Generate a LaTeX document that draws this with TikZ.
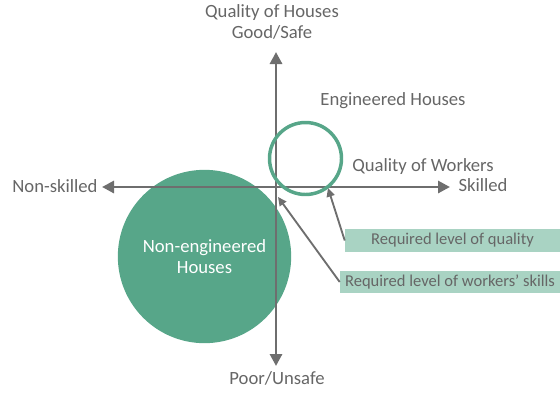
\documentclass[tikz,border=0pt]{standalone}
\usepackage{fontspec}
\setmainfont{Carlito}
\usetikzlibrary{positioning}
\usetikzlibrary{arrows.meta}
\definecolor{axisgray}{HTML}{6E6E6E}
\definecolor{textgray}{HTML}{666666}
\definecolor{housegreen}{HTML}{57A689}
\definecolor{boxgreen}{HTML}{A9D3C3}
\tikzset{
	axis/.style={draw=axisgray, line width=2.2pt, -{Triangle[length=9pt,width=9pt]}},
	pointer/.style={draw=axisgray, line width=1.4pt, -{Triangle[length=6.5pt,width=6pt]}},
	label/.style={text=textgray, font=\fontsize{14}{16}\selectfont, align=center, inner sep=0pt},
	blob/.style={
		circle,
		fill=housegreen,
		minimum size=130pt,
		text=white,
		align=center,
		font=\fontsize{14}{16}\selectfont},
	ring/.style={
		circle,
		draw=housegreen, line width=2.6pt,
		minimum size=54pt,
		inner sep=0pt},
	tag/.style={
		rectangle,
		fill=boxgreen,
		text=textgray,
		minimum height=17pt,
		inner sep=0pt,
		font=\fontsize{12.4}{14}\selectfont},
}
\begin{document}
\begin{tikzpicture}[x=0.75pt,y=-0.75pt]
		\useasboundingbox (0,0) rectangle (560,393);
		% houses
		\node[blob] (noneng) at (204.5,256.5) {Non-engineered\\Houses};
		\coordinate (origin) at (276,187);
		% axes
		\draw[axis] (origin) -- (276,52);
		\draw[axis] (origin) -- (276,366);
		\draw[axis] (origin) -- (450,187);
		\draw[axis] (origin) -- (102,187);
		\node[ring] (eng) at (305.5,158.5) {};
		% labels
		\node[label] (good) at (272,22) {Quality of Houses\\Good/Safe};
		\node[label] (poor) at (277,378) {Poor/Unsafe};
		\node[label] (nonskilled) at (55,186) {Non-skilled};
		\node[label] (skilled) at (483,185) {Skilled};
		\node[label] (workers) at (423,167) {Quality of Workers};
		\node[label] (enghouses) at (393,101) {Engineered Houses};
		% required levels
		\node[tag, minimum width=161.25pt] (quality) at (452.5,240.5) {Required level of quality};
		\node[tag, minimum width=165pt] (skills) at (450,282) {Required level of workers’ skills};
		\coordinate (qualitypt) at (328,188);
		\coordinate (skillspt) at (278,197);
		\draw[pointer] (quality.west) -- (qualitypt);
		\draw[pointer] (skills.west) -- (skillspt);
\end{tikzpicture}
\end{document}
